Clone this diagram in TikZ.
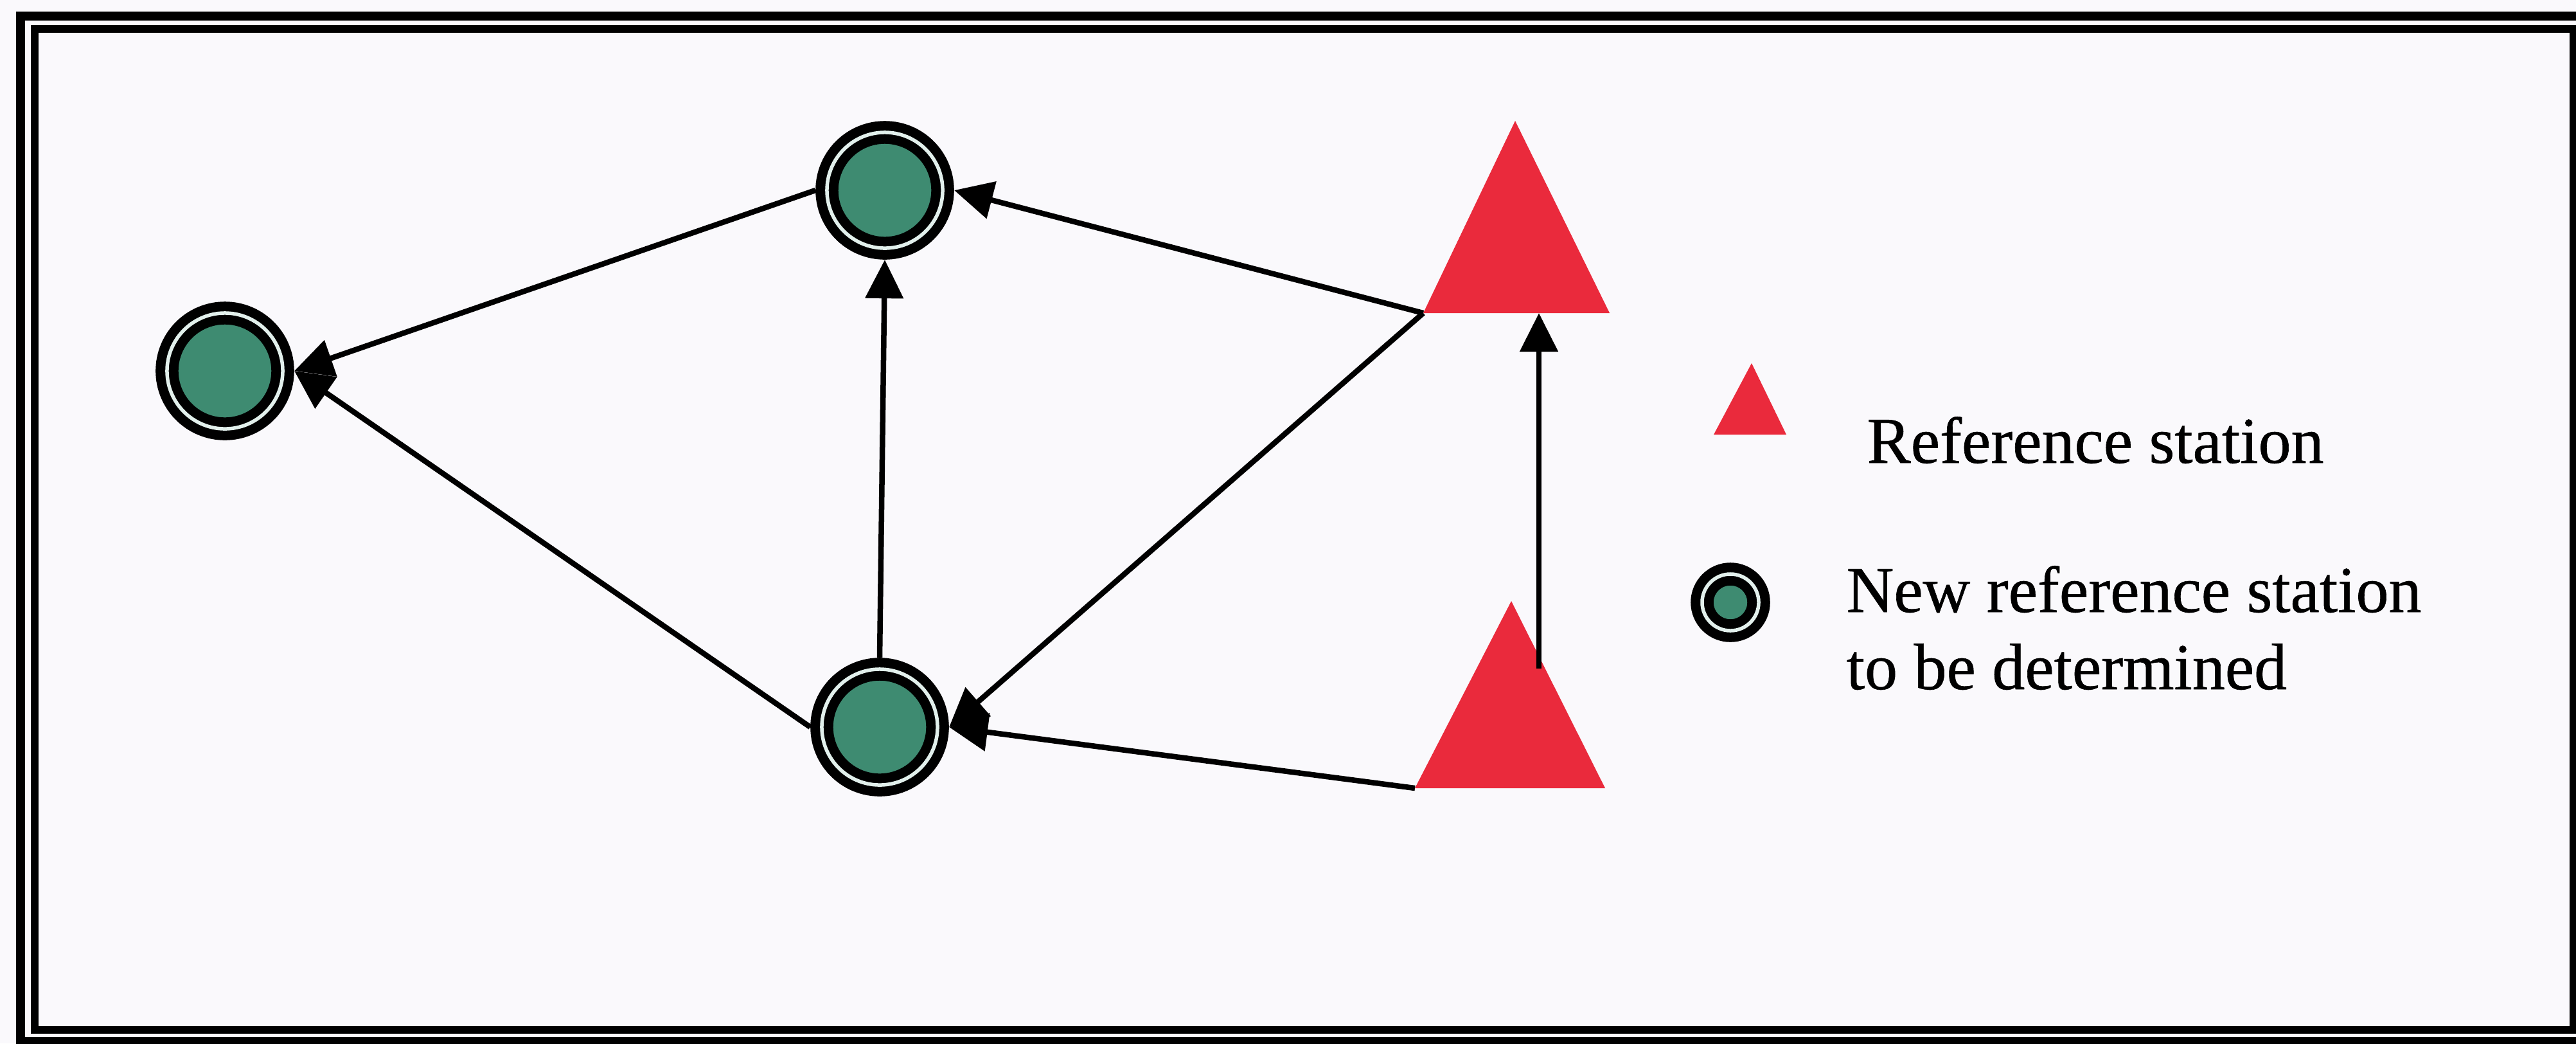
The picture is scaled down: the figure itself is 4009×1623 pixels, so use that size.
\documentclass[tikz,border=0pt]{standalone}
\usepackage{fontspec}
\setmainfont{Liberation Serif}
\newfontface\legendfont{Liberation Serif}[FakeBold=0.6]
\usetikzlibrary{arrows.meta}

\definecolor{stationgreen}{RGB}{62,139,113}
\definecolor{refred}{RGB}{234,42,60}
\definecolor{ringgap}{RGB}{226,240,236}
\definecolor{paper}{RGB}{250,249,252}

\tikzset{
  newstation/.style={circle, draw=black, line width=0.15cm, double=ringgap,
    double distance=0.055cm, fill=stationgreen, inner sep=0pt, outer sep=0.18cm},
  bigstation/.style={newstation, minimum size=1.80cm},
  smallstation/.style={newstation, minimum size=0.88cm},
  refstation/.style={fill=refred},
  baseline link/.style={draw=black, line width=0.085cm,
    -{Triangle[length=0.6cm,width=0.58cm]}},
  legendtext/.style={anchor=base west, inner sep=0pt,
    font=\legendfont\fontsize{29}{34}\selectfont},
  frameline/.style={draw=black, line width=0.14cm},
  innerframe/.style={draw=black, line width=0.12cm},
}

\begin{document}
\begin{tikzpicture}[x=0.01cm, y=-0.01cm]
  % page and double frame
  \fill[paper] (0,0) rectangle (4009,1623);
  \useasboundingbox (0,0) rectangle (4009,1623);
  \draw[frameline] (32,25) rectangle (4030,1620);
  \draw[innerframe] (54,45) rectangle (4005,1602);

  % new stations to be determined
  \node[bigstation] (A) at (350,577) {};
  \node[bigstation] (B) at (1377,296) {};
  \node[bigstation] (C) at (1369,1131) {};

  % known reference stations
  \coordinate (T1n) at (2358,188);
  \coordinate (T1w) at (2215,487);
  \coordinate (T1e) at (2505,487);
  \coordinate (T1s) at (2395,487);
  \coordinate (T2n) at (2352,935);
  \coordinate (T2w) at (2202,1226);
  \coordinate (T2e) at (2498,1226);
  \coordinate (T2up) at (2395,1040);
  \path[refstation] (T1w) -- (T1n) -- (T1e) -- cycle;
  \path[refstation] (T2w) -- (T2n) -- (T2e) -- cycle;

  % baselines
  \draw[baseline link] (B.west) -- (A.east);
  \draw[baseline link] (C.west) -- (A.east);
  \draw[baseline link] (C.north) -- (B.south);
  \draw[baseline link] (T1w) -- (B.east);
  \draw[baseline link] (T1w) -- (C.east);
  \draw[baseline link] (T2w) -- (C.east);
  \draw[baseline link] (T2up) -- (T1s);

  % legend
  \coordinate (Ln) at (2726,565);
  \coordinate (Lw) at (2667,676);
  \coordinate (Le) at (2780,676);
  \path[refstation] (Lw) -- (Ln) -- (Le) -- cycle;
  \node[legendtext] (refkey) at (2905,720) {Reference station};

  \node[smallstation] (newkey) at (2693,937) {};
  \node[legendtext] (newkeya) at (2873,952) {New reference station};
  \node[legendtext] (newkeyb) at (2873,1072) {to be determined};
\end{tikzpicture}
\end{document}
